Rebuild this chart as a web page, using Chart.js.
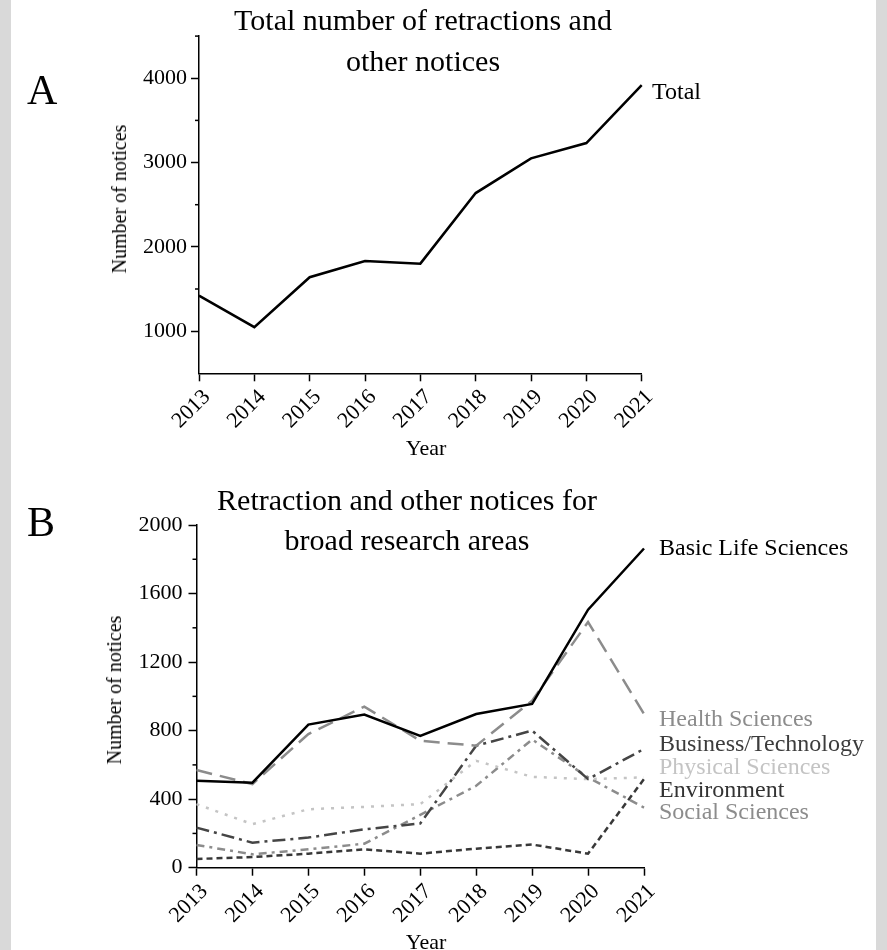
<!DOCTYPE html>
<html>
<head>
<meta charset="utf-8">
<script src="https://cdn.jsdelivr.net/npm/chart.js@4.4.1/dist/chart.umd.min.js"></script>
<style>
  html, body { margin: 0; padding: 0; }
  body { width: 887px; height: 950px; background: #d9d9d9; position: relative; overflow: hidden;
         font-family: "Liberation Serif", "Times New Roman", serif; }
  #page { position: absolute; left: 11px; top: 0; width: 865px; height: 950px; background: #fff; }
  canvas { position: absolute; left: 0; }
  .txt { position: absolute; white-space: nowrap; line-height: 1; color: #000; }
  .center { transform: translateX(-50%); text-align: center; }
  .vert { transform: translate(-50%, -50%) rotate(-90deg); }
</style>
</head>
<body>
<div id="page"></div>
<canvas id="chartA" width="887" height="475" style="top:0"></canvas>
<canvas id="chartB" width="887" height="475" style="top:475px"></canvas>

<script>
const years = ['2013', '2014', '2015', '2016', '2017', '2018', '2019', '2020', '2021'];

// panel A
const totalNotices = [1422, 1047, 1640, 1833, 1801, 2638, 3049, 3231, 3918];
const ticksA = [1000, 2000, 3000, 4000];
const minorTicksA = [1500, 2500, 3500, 4500];

// panel B
const basicLifeSciences = [507, 496, 835, 894, 769, 897, 956, 1506, 1863];
const healthSciences = [570, 488, 780, 940, 741, 712, 975, 1434, 897];
const businessTechnology = [234, 146, 176, 224, 258, 712, 800, 517, 693];
const physicalSciences = [371, 254, 341, 355, 371, 624, 530, 517, 527];
const environment = [51, 62, 82, 107, 82, 111, 135, 82, 517];
const socialSciences = [133, 78, 107, 140, 308, 478, 748, 527, 351];
const ticksB = [0, 400, 800, 1200, 1600, 2000];
const minorTicksB = [200, 600, 1000, 1400, 1800];

const FONT = '"Liberation Serif", "Times New Roman", serif';

// text placed by baseline
function addText(str, x, baseline, size, color, cls) {
    const el = document.createElement('div');
    el.className = 'txt' + (cls ? ' ' + cls : '');
    el.textContent = str;
    el.style.fontSize = size + 'px';
    el.style.left = x + 'px';
    el.style.top = (baseline - 0.8375 * size) + 'px';
    el.style.color = color || '#000';
    document.body.appendChild(el);
}

function addVertical(str, cx, cy, size) {
    const el = document.createElement('div');
    el.className = 'txt vert';
    el.textContent = str;
    el.style.fontSize = size + 'px';
    el.style.left = cx + 'px';
    el.style.top = cy + 'px';
    document.body.appendChild(el);
}

const minorTicks = {
    id: 'minorTicks',
    afterDraw(chart, args, opts) {
        const y = chart.scales.y;
        const ctx = chart.ctx;
        ctx.save();
        ctx.strokeStyle = '#000';
        ctx.lineWidth = 1.5;
        opts.values.forEach(v => {
            const py = y.getPixelForValue(v);
            ctx.beginPath();
            ctx.moveTo(y.right - 4, py);
            ctx.lineTo(y.right, py);
            ctx.stroke();
        });
        ctx.restore();
    }
};

function axisOptions(yMin, yMax, majors, yWidth, xHeight, yPad) {
    return {
        x: {
            grid: { display: true, drawOnChartArea: false, drawTicks: true, tickLength: 8, tickColor: '#000', tickWidth: 1.5 },
            border: { display: true, color: '#000', width: 1.5 },
            ticks: { color: '#000', font: { family: FONT, size: 22 }, minRotation: 45, maxRotation: 45,
                     padding: 3, labelOffset: 8, autoSkip: false },
            afterFit: s => { s.height = xHeight; }
        },
        y: {
            min: yMin,
            max: yMax,
            grid: { display: true, drawOnChartArea: false, drawTicks: true, tickLength: 8, tickColor: '#000', tickWidth: 1.5 },
            border: { display: true, color: '#000', width: 1.5 },
            ticks: { color: '#000', font: { family: FONT, size: 22 }, padding: yPad,
                     callback: v => String(v) },
            afterBuildTicks: s => { s.ticks = majors.map(v => ({ value: v })); },
            afterFit: s => { s.width = yWidth; }
        }
    };
}

function lineSet(data, color, dash, width) {
    return {
        data: data,
        borderColor: color,
        borderDash: dash,
        borderWidth: width || 2.5,
        pointRadius: 0,
        tension: 0,
        fill: false
    };
}

const chartA = new Chart(document.getElementById('chartA'), {
    type: 'line',
    data: {
        labels: years,
        datasets: [lineSet(totalNotices, '#000', [])]
    },
    options: {
        responsive: false,
        animation: false,
        devicePixelRatio: 1,
        layout: { padding: { left: 0, right: 245.3, top: 36.1, bottom: 0 } },
        plugins: { legend: { display: false }, tooltip: { enabled: false }, minorTicks: { values: minorTicksA } },
        scales: axisOptions(500, 4500, ticksA, 199, 101.7, 4)
    },
    plugins: [minorTicks]
});

const chartB = new Chart(document.getElementById('chartB'), {
    type: 'line',
    data: {
        labels: years,
        datasets: [
            lineSet(basicLifeSciences, '#000', []),
            lineSet(healthSciences, '#8c8c8c', [16, 8]),
            lineSet(businessTechnology, '#454545', [13, 5, 3, 5]),
            lineSet(physicalSciences, '#c4c4c4', [3, 7]),
            lineSet(environment, '#383838', [6, 4]),
            lineSet(socialSciences, '#8c8c8c', [8, 5, 3, 5])
        ]
    },
    options: {
        responsive: false,
        animation: false,
        devicePixelRatio: 1,
        layout: { padding: { left: 0, right: 243, top: 50, bottom: 0 } },
        plugins: { legend: { display: false }, tooltip: { enabled: false }, minorTicks: { values: minorTicksB } },
        scales: axisOptions(0, 2000, ticksB, 196.5, 82.3, 6)
    },
    plugins: [minorTicks]
});

// titles, panel letters, axis titles
addText('Total number of retractions and', 423, 30, 30, '#000', 'center');
addText('other notices', 423, 71.5, 30, '#000', 'center');
addText('Retraction and other notices for', 407, 510, 30, '#000', 'center');
addText('broad research areas', 407, 550, 30, '#000', 'center');
addText('A', 27, 104, 42);
addText('B', 27, 536, 42);
addVertical('Number of notices', 119, 199, 20);
addVertical('Number of notices', 114, 690, 20);
addText('Year', 426, 455, 22, '#000', 'center');
addText('Year', 426, 949, 22, '#000', 'center');

// line end labels
addText('Total', 652, 99, 24, '#000');
addText('Basic Life Sciences', 659, 555, 24, '#000');
addText('Health Sciences', 659, 726, 24, '#8c8c8c');
addText('Business/Technology', 659, 751, 24, '#3c3c3c');
addText('Physical Sciences', 659, 774, 24, '#c4c4c4');
addText('Environment', 659, 797, 24, '#333333');
addText('Social Sciences', 659, 819, 24, '#8c8c8c');
</script>
</body>
</html>
